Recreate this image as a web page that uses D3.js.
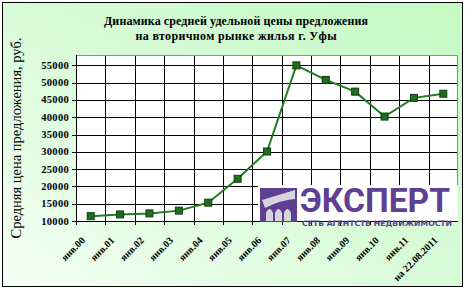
<!DOCTYPE html>
<html>
<head>
<meta charset="utf-8">
<script src="https://cdn.jsdelivr.net/npm/d3@7"></script>
<style>
  body { margin: 0; background: #fff; }
</style>
</head>
<body>
<script>
var categories = ['янв.00', 'янв.01', 'янв.02', 'янв.03', 'янв.04', 'янв.05', 'янв.06',
    'янв.07', 'янв.08', 'янв.09', 'янв.10', 'янв.11', 'на 22.08.2011'];
var prices = [11400, 11900, 12200, 13000, 15300, 22200, 30100,
    55000, 50800, 47400, 40200, 45600, 46800];
var yTicks = [10000, 15000, 20000, 25000, 30000, 35000, 40000, 45000, 50000, 55000];
var titleLines = ['Динамика средней удельной цены предложения', 'на вторичном рынке жилья г. Уфы'];
var yTitle = 'Средняя цена предложения, руб.';

var serif = '"Liberation Serif", "DejaVu Serif", serif';
var width = 472, height = 291;
var plot = {left: 76, right: 458, top: 55, bottom: 221};

var svg = d3.select('body').append('svg')
    .attr('width', width)
    .attr('height', height)
    .style('font-family', serif);

var defs = svg.append('defs');
var grad = defs.append('linearGradient')
    .attr('id', 'bg')
    .attr('x1', '100%').attr('y1', '0%')
    .attr('x2', '0%').attr('y2', '100%');
grad.append('stop').attr('offset', '0%').attr('stop-color', '#c4fac4');
grad.append('stop').attr('offset', '50%').attr('stop-color', '#d8fbd8');
grad.append('stop').attr('offset', '100%').attr('stop-color', '#f4fff4');

// chart area
svg.append('rect')
    .attr('x', 2.5).attr('y', 2.5)
    .attr('width', 460).attr('height', 284)
    .attr('fill', 'url(#bg)')
    .attr('stroke', '#000')
    .attr('stroke-width', 1);

var x = d3.scaleBand()
    .domain(categories)
    .range([plot.left, plot.right])
    .padding(0);

var y = d3.scaleLinear()
    .domain([10000, 58000])
    .range([plot.bottom, plot.top]);

// plot area
svg.append('rect')
    .attr('x', plot.left).attr('y', plot.top)
    .attr('width', plot.right - plot.left)
    .attr('height', plot.bottom - plot.top)
    .attr('fill', '#fff');

// horizontal grid
svg.append('g')
    .selectAll('line')
    .data(yTicks)
    .enter()
        .append('line')
        .attr('x1', plot.left - 4).attr('x2', plot.right)
        .attr('y1', (d) => Math.round(y(d)) + 0.5)
        .attr('y2', (d) => Math.round(y(d)) + 0.5)
        .attr('stroke', '#000');

// vertical grid at category boundaries
svg.append('g')
    .selectAll('line')
    .data(categories.slice(1))
    .enter()
        .append('line')
        .attr('x1', (d) => Math.round(x(d)) + 0.5)
        .attr('x2', (d) => Math.round(x(d)) + 0.5)
        .attr('y1', plot.top)
        .attr('y2', plot.bottom + 4)
        .attr('stroke', '#000');

// plot border
svg.append('rect')
    .attr('x', plot.left + 0.5).attr('y', plot.top + 0.5)
    .attr('width', plot.right - plot.left - 1)
    .attr('height', plot.bottom - plot.top)
    .attr('fill', 'none')
    .attr('stroke', '#7f9a7f');

// axes lines
svg.append('line')
    .attr('x1', plot.left + 0.5).attr('x2', plot.left + 0.5)
    .attr('y1', plot.top).attr('y2', plot.bottom + 4)
    .attr('stroke', '#000');
svg.append('line')
    .attr('x1', plot.left - 4).attr('x2', plot.right)
    .attr('y1', Math.round(y(10000)) + 0.5).attr('y2', Math.round(y(10000)) + 0.5)
    .attr('stroke', '#000');

// y tick labels
svg.append('g')
    .selectAll('text')
    .data(yTicks)
    .enter()
        .append('text')
        .attr('x', plot.left - 7)
        .attr('y', (d) => y(d) + 3.5)
        .attr('text-anchor', 'end')
        .attr('font-size', 10.5)
        .attr('font-weight', 'bold')
        .attr('letter-spacing', 0.3)
        .text((d) => d);

// x tick labels
svg.append('g')
    .selectAll('text')
    .data(categories)
    .enter()
        .append('text')
        .attr('transform', (d) => `translate(${x(d) + x.bandwidth() / 2 - 5},${plot.bottom + 20}) rotate(-45)`)
        .attr('text-anchor', 'end')
        .attr('font-size', 10)
        .attr('font-weight', 'bold')
        .text((d) => d);

// logo
var logo = svg.append('g');
logo.append('rect')
    .attr('x', 258).attr('y', 185)
    .attr('width', 200).attr('height', 36)
    .attr('fill', '#fff');
logo.append('rect')
    .attr('x', 260).attr('y', 188)
    .attr('width', 37).attr('height', 34)
    .attr('fill', '#5e3f92');
logo.append('path')
    .attr('d', 'M262,200 L295,190 L295,199 Q280,200 265,208 Z')
    .attr('fill', '#d8d4de');
[[266, 7], [275, 7], [284, 7]].forEach(function (a) {
    logo.append('path')
        .attr('d', `M${a[0]},221 L${a[0]},${213} Q${a[0] + a[1] / 2},${205} ${a[0] + a[1]},${213} L${a[0] + a[1]},221 Z`)
        .attr('fill', '#d8d4de');
});
logo.append('text')
    .attr('x', 300).attr('y', 212)
    .style('font-family', 'Roboto, "DejaVu Sans", sans-serif')
    .attr('font-weight', 'bold')
    .attr('font-size', 33)
    .attr('textLength', 150)
    .attr('lengthAdjust', 'spacingAndGlyphs')
    .attr('fill', '#5e3f92')
    .text('ЭКСПЕРТ');
logo.append('text')
    .attr('x', 302).attr('y', 226)
    .style('font-family', '"DejaVu Sans", sans-serif')
    .attr('font-size', 7.5)
    .attr('font-weight', 'bold')
    .attr('textLength', 150)
    .attr('lengthAdjust', 'spacingAndGlyphs')
    .attr('fill', '#5e3f92')
    .text('СЕТЬ АГЕНТСТВ НЕДВИЖИМОСТИ');

// line and markers
var line = d3.line()
    .x((d, i) => x(categories[i]) + x.bandwidth() / 2)
    .y((d) => y(d));

svg.append('path')
    .datum(prices)
    .attr('fill', 'none')
    .attr('stroke', '#1e7d1e')
    .attr('stroke-width', 2)
    .attr('d', line);

svg.append('g')
    .selectAll('rect')
    .data(prices)
    .enter()
        .append('rect')
        .attr('x', (d, i) => x(categories[i]) + x.bandwidth() / 2 - 3.5)
        .attr('y', (d) => y(d) - 3.5)
        .attr('width', 7).attr('height', 7)
        .attr('fill', '#1f6e1f')
        .attr('stroke', '#0f3f0f')
        .attr('stroke-width', 1);

// title
var titleWidths = [264, 201];
svg.append('g')
    .selectAll('text')
    .data(titleLines)
    .enter()
        .append('text')
        .attr('x', (d, i) => 236 - titleWidths[i] / 2)
        .attr('y', (d, i) => 25 + i * 15)
        .attr('font-size', 12)
        .attr('font-weight', 'bold')
        .attr('textLength', (d, i) => titleWidths[i])
        .attr('lengthAdjust', 'spacing')
        .text((d) => d);

// y axis title
svg.append('text')
    .attr('transform', 'translate(21,138) rotate(-90)')
    .attr('text-anchor', 'middle')
    .attr('font-size', 14.5)
    .text(yTitle);
</script>
</body>
</html>
